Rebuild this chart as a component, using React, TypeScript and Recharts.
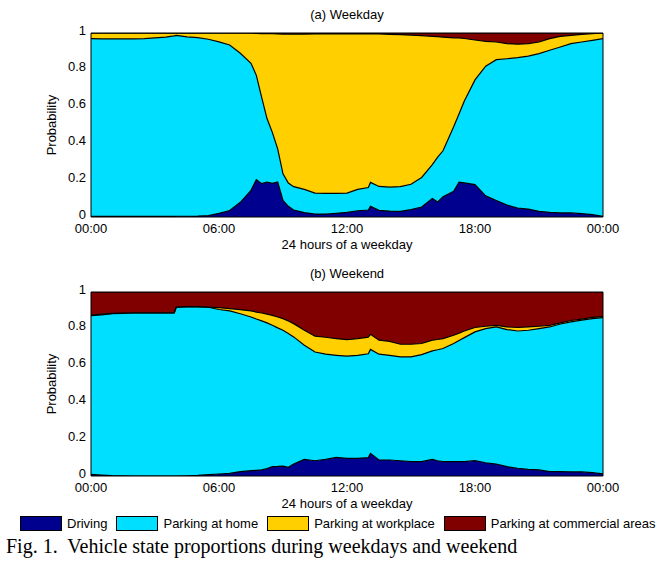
import { AreaChart, Area, XAxis, YAxis, ReferenceArea } from "recharts";

// time of day in hours (a few extra samples where the curves move fast)
const hours = [
	0, 0.5, 1, 1.5, 2, 2.5, 3, 3.5, 3.9, 4,
	4.5, 5, 5.5, 6, 6.5, 7, 7.5, 7.75, 8, 8.25,
	8.5, 8.75, 9, 9.25, 9.5, 10, 10.5, 11, 11.5, 12,
	12.5, 13, 13.1, 13.5, 14, 14.5, 15, 15.5, 16, 16.25,
	16.5, 17, 17.25, 17.5, 18, 18.5, 19, 19.5, 20, 20.5,
	21, 21.5, 22, 22.5, 23, 23.5, 24,
];

const weekdayDriving = [
	0.004, 0.003, 0.004, 0.003, 0.003, 0.004, 0.003, 0.003, 0.003, 0.004,
	0.004, 0.005, 0.008, 0.02, 0.035, 0.08, 0.145, 0.203, 0.181, 0.19,
	0.183, 0.19, 0.09, 0.058, 0.038, 0.024, 0.016, 0.016, 0.02, 0.025,
	0.034, 0.038, 0.058, 0.036, 0.032, 0.031, 0.04, 0.054, 0.1, 0.082,
	0.11, 0.14, 0.19, 0.185, 0.176, 0.115, 0.09, 0.065, 0.049, 0.043,
	0.031, 0.025, 0.022, 0.022, 0.018, 0.013, 0.004,
];
const weekdayHome = [
	0.965, 0.965, 0.964, 0.965, 0.965, 0.965, 0.97, 0.975, 0.981, 0.983,
	0.975, 0.97, 0.958, 0.932, 0.9, 0.81, 0.69, 0.567, 0.469, 0.345,
	0.277, 0.18, 0.145, 0.127, 0.127, 0.126, 0.114, 0.112, 0.108, 0.105,
	0.116, 0.122, 0.13, 0.13, 0.13, 0.134, 0.138, 0.161, 0.185, 0.243,
	0.25, 0.35, 0.37, 0.445, 0.569, 0.705, 0.765, 0.795, 0.817, 0.831,
	0.857, 0.881, 0.902, 0.92, 0.933, 0.947, 0.965,
];
const weekdayWorkplace = [
	0.031, 0.032, 0.032, 0.032, 0.032, 0.031, 0.027, 0.022, 0.016, 0.013,
	0.021, 0.025, 0.034, 0.048, 0.065, 0.11, 0.165, 0.228, 0.347, 0.462,
	0.536, 0.625, 0.759, 0.809, 0.829, 0.844, 0.865, 0.867, 0.867, 0.865,
	0.845, 0.835, 0.807, 0.829, 0.831, 0.826, 0.81, 0.771, 0.697, 0.655,
	0.618, 0.484, 0.413, 0.34, 0.217, 0.135, 0.096, 0.082, 0.073, 0.068,
	0.063, 0.063, 0.058, 0.045, 0.042, 0.036, 0.031,
];
const weekdayCommercial = [
	0, 0, 0, 0, 0, 0, 0, 0, 0, 0,
	0, 0, 0, 0, 0, 0, 0, 0.002, 0.003, 0.003,
	0.004, 0.005, 0.006, 0.006, 0.006, 0.006, 0.005, 0.005, 0.005, 0.005,
	0.005, 0.005, 0.005, 0.005, 0.007, 0.009, 0.012, 0.014, 0.018, 0.02,
	0.022, 0.026, 0.027, 0.03, 0.038, 0.045, 0.049, 0.058, 0.061, 0.058,
	0.049, 0.031, 0.018, 0.013, 0.007, 0.004, 0,
];

const weekendDriving = [
	0.009, 0.005, 0.002, 0.001, 0, 0, 0, 0, 0, 0,
	0.001, 0.003, 0.007, 0.011, 0.014, 0.024, 0.029, 0.031, 0.033, 0.04,
	0.051, 0.052, 0.054, 0.047, 0.065, 0.09, 0.083, 0.09, 0.101, 0.096,
	0.096, 0.1, 0.123, 0.087, 0.087, 0.083, 0.078, 0.078, 0.09, 0.083,
	0.078, 0.078, 0.078, 0.078, 0.083, 0.072, 0.065, 0.051, 0.042, 0.036,
	0.033, 0.024, 0.024, 0.022, 0.022, 0.018, 0.011,
];
const weekendHome = [
	0.863, 0.871, 0.88, 0.883, 0.886, 0.886, 0.886, 0.886, 0.886, 0.917,
	0.918, 0.916, 0.91, 0.894, 0.883, 0.858, 0.835, 0.822, 0.81, 0.792,
	0.768, 0.753, 0.738, 0.728, 0.691, 0.621, 0.591, 0.572, 0.555, 0.555,
	0.56, 0.564, 0.565, 0.575, 0.569, 0.564, 0.569, 0.582, 0.59, 0.603,
	0.615, 0.642, 0.658, 0.674, 0.7, 0.729, 0.745, 0.745, 0.746, 0.756,
	0.768, 0.786, 0.802, 0.816, 0.825, 0.837, 0.85,
];
const weekendWorkplace = [
	0.003, 0.004, 0.002, 0.002, 0.001, 0.001, 0.001, 0.001, 0.001, 0.001,
	0.001, 0.001, 0.001, 0.01, 0.013, 0.022, 0.033, 0.038, 0.043, 0.048,
	0.054, 0.059, 0.063, 0.067, 0.072, 0.081, 0.086, 0.092, 0.091, 0.09,
	0.091, 0.091, 0.082, 0.076, 0.076, 0.069, 0.069, 0.06, 0.058, 0.056,
	0.054, 0.045, 0.04, 0.036, 0.024, 0.013, 0.009, 0.014, 0.019, 0.018,
	0.013, 0.009, 0.006, 0.007, 0.006, 0.007, 0.005,
];
const weekendCommercial = [
	0.125, 0.12, 0.116, 0.114, 0.113, 0.113, 0.113, 0.113, 0.113, 0.082,
	0.08, 0.08, 0.082, 0.085, 0.09, 0.096, 0.103, 0.109, 0.114, 0.12,
	0.127, 0.136, 0.145, 0.158, 0.172, 0.208, 0.24, 0.246, 0.253, 0.259,
	0.253, 0.245, 0.23, 0.262, 0.268, 0.284, 0.284, 0.28, 0.262, 0.258,
	0.253, 0.235, 0.224, 0.212, 0.193, 0.186, 0.181, 0.19, 0.193, 0.19,
	0.186, 0.181, 0.168, 0.155, 0.147, 0.138, 0.134,
];

const seriesKeys = ["driving", "home", "workplace", "commercial"];
const seriesNames = [
	"Driving",
	"Parking at home",
	"Parking at workplace",
	"Parking at commercial areas",
];
const seriesColors = ["#00008F", "#00DFFF", "#FFCF00", "#800000"];

const xTicks = [0, 6, 12, 18, 24];
const xTickLabels = ["00:00", "06:00", "12:00", "18:00", "00:00"];
const yTicks = [0, 0.2, 0.4, 0.6, 0.8, 1];

const FONT = "Arial, 'Liberation Sans', Helvetica, sans-serif";

function buildRows(d: number[], h: number[], w: number[], c: number[]) {
	return hours.map((hour, i) => ({
		hour,
		driving: d[i],
		home: h[i],
		workplace: w[i],
		commercial: c[i],
	}));
}

const weekdayRows = buildRows(weekdayDriving, weekdayHome, weekdayWorkplace, weekdayCommercial);
const weekendRows = buildRows(weekendDriving, weekendHome, weekendWorkplace, weekendCommercial);

function Panel({ title, top, rows }: { title: string; top: number; rows: any[] }) {
	return (
		<div style={{ position: "absolute", left: 0, top, width: 665, height: 258 }}>
			<div
				style={{
					position: "absolute",
					left: 91,
					width: 512,
					top: 7,
					textAlign: "center",
					fontFamily: FONT,
					fontSize: 13,
					lineHeight: "15px",
				}}
			>
				{title}
			</div>
			<AreaChart
				width={665}
				height={258}
				data={rows}
				margin={{ top: 33, right: 62, bottom: 1, left: 51 }}
				style={{ fontFamily: FONT }}
			>
				<XAxis
					dataKey="hour"
					type="number"
					domain={[0, 24]}
					ticks={xTicks}
					tickFormatter={(v: number) => xTickLabels[xTicks.indexOf(v)]}
					allowDataOverflow
					height={40}
					axisLine={false}
					tickLine={false}
					tickSize={0}
					tickMargin={7}
					tick={{ fill: "#000", fontSize: 13 }}
					label={{
						value: "24 hours of a weekday",
						position: "insideBottom",
						offset: 8,
						fill: "#000",
						fontSize: 13,
					}}
				/>
				<YAxis
					type="number"
					domain={[0, 1]}
					ticks={yTicks}
					allowDataOverflow
					width={40}
					axisLine={false}
					tickLine={false}
					tickSize={0}
					tickMargin={5}
					tick={{ fill: "#000", fontSize: 13, dy: -3 }}
					label={{
						value: "Probability",
						angle: -90,
						position: "insideLeft",
						offset: 0,
						fill: "#000",
						fontSize: 13,
						style: { textAnchor: "middle" },
					}}
				/>
				{/* filled layers */}
				{seriesKeys.map((key, i) => (
					<Area
						key={key}
						dataKey={key}
						name={seriesNames[i]}
						stackId="state"
						type="linear"
						stroke="none"
						fill={seriesColors[i]}
						fillOpacity={1}
						dot={false}
						activeDot={false}
						isAnimationActive={false}
					/>
				))}
				{/* black edges drawn on top so the next layer doesn't hide them */}
				{seriesKeys.map((key) => (
					<Area
						key={key + "-edge"}
						dataKey={key}
						stackId="edge"
						type="linear"
						stroke="#000"
						strokeWidth={1.2}
						fill="none"
						dot={false}
						activeDot={false}
						legendType="none"
						isAnimationActive={false}
					/>
				))}
				<ReferenceArea
					x1={0}
					x2={24}
					y1={0}
					y2={1}
					fill="none"
					stroke="#000"
					strokeWidth={1}
					ifOverflow="visible"
				/>
			</AreaChart>
		</div>
	);
}

export default function App() {
	return (
		<div
			style={{
				position: "absolute",
				left: 0,
				top: 0,
				width: 665,
				height: 561,
				background: "#fff",
				overflow: "hidden",
			}}
		>
			<Panel title="(a) Weekday" top={0} rows={weekdayRows} />
			<Panel title="(b) Weekend" top={259} rows={weekendRows} />
			<div
				style={{
					position: "absolute",
					left: 20,
					top: 516,
					display: "flex",
					alignItems: "center",
					fontFamily: FONT,
					fontSize: 13,
					lineHeight: "15px",
					whiteSpace: "nowrap",
				}}
			>
				{seriesNames.map((name, i) => (
					<div key={name} style={{ display: "flex", alignItems: "center", marginRight: 9 }}>
						<span
							style={{
								display: "inline-block",
								width: 40,
								height: 13,
								background: seriesColors[i],
								border: "1px solid #000",
								marginRight: 5,
							}}
						/>
						<span>{name}</span>
					</div>
				))}
			</div>
			<div
				style={{
					position: "absolute",
					left: 6,
					top: 534,
					fontFamily: "'Times New Roman', 'Liberation Serif', serif",
					fontSize: 20,
					lineHeight: "24px",
					whiteSpace: "pre",
				}}
			>
				{"Fig. 1.  Vehicle state proportions during weekdays and weekend"}
			</div>
		</div>
	);
}
